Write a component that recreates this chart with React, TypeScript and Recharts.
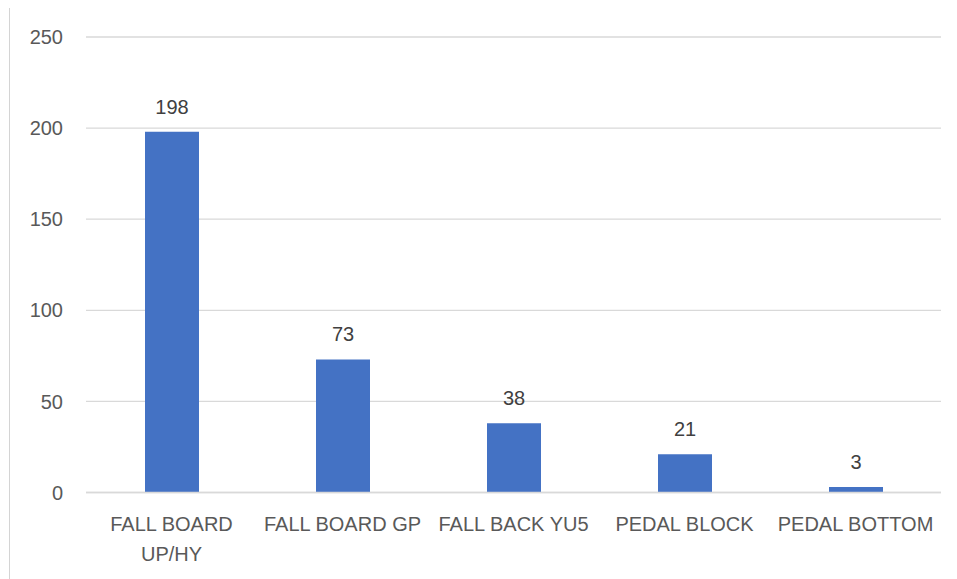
import React from "react"
import {
  BarChart,
  Bar,
  XAxis,
  YAxis,
  CartesianGrid,
  LabelList,
} from "recharts"

const categories = [
  "FALL BOARD UP/HY",
  "FALL BOARD GP",
  "FALL BACK YU5",
  "PEDAL BLOCK",
  "PEDAL BOTTOM",
]
const counts = [198, 73, 38, 21, 3]
const yTicks = [0, 50, 100, 150, 200, 250]

const data = categories.map((name, i) => ({ name, count: counts[i] }))

const FONT = "'Liberation Sans', Arial, sans-serif"
const FONT_SIZE = 20

// greedy word wrap, measured with a canvas
function wrapLabel(label: string, maxWidth: number): string[] {
  const ctx = document.createElement("canvas").getContext("2d")
  if (!ctx) return [label]
  ctx.font = `${FONT_SIZE}px ${FONT}`
  const words = label.split(" ")
  const lines: string[] = []
  let cur = ""
  for (const w of words) {
    const next = cur ? cur + " " + w : w
    if (cur && ctx.measureText(next).width > maxWidth) {
      lines.push(cur)
      cur = w
    } else {
      cur = next
    }
  }
  if (cur) lines.push(cur)
  return lines
}

function CategoryTick(props: any) {
  const { x, y, payload } = props
  const lines = wrapLabel(String(payload.value), 165)
  return (
    <text
      x={x}
      y={y}
      textAnchor="middle"
      fill="#595959"
      fontFamily={FONT}
      fontSize={FONT_SIZE}
    >
      {lines.map((line, i) => (
        <tspan key={i} x={x} dy={i === 0 ? "0.71em" : 30}>
          {line}
        </tspan>
      ))}
    </text>
  )
}

export default function App() {
  return (
    <div style={{ position: "relative", width: 949, height: 571 }}>
      <div
        style={{
          position: "absolute",
          left: 1,
          top: -1,
          width: 960,
          height: 580,
          border: "1px solid #d4d4d4",
          boxSizing: "border-box",
        }}
      />
      <BarChart
        width={949}
        height={571}
        data={data}
        margin={{ top: 29, right: 16, bottom: 6.5, left: 0 }}
        style={{ position: "relative", fontFamily: FONT }}
      >
        <CartesianGrid vertical={false} stroke="#d9d9d9" strokeWidth={1.3} />
        <XAxis
          dataKey="name"
          height={80}
          interval={0}
          tickLine={false}
          tickSize={0}
          tickMargin={24}
          axisLine={{ stroke: "#d9d9d9", strokeWidth: 1.3 }}
          tick={<CategoryTick />}
        />
        <YAxis
          width={78}
          domain={[0, 250]}
          ticks={yTicks}
          axisLine={false}
          tickLine={false}
          tickSize={0}
          tickMargin={23}
          tick={{ fill: "#595959", fontSize: FONT_SIZE, fontFamily: FONT }}
        />
        <Bar dataKey="count" fill="#4472C4" barSize={54} isAnimationActive={false}>
          <LabelList
            dataKey="count"
            position="top"
            offset={18}
            fill="#404040"
            fontSize={FONT_SIZE}
            fontFamily={FONT}
          />
        </Bar>
      </BarChart>
    </div>
  )
}
